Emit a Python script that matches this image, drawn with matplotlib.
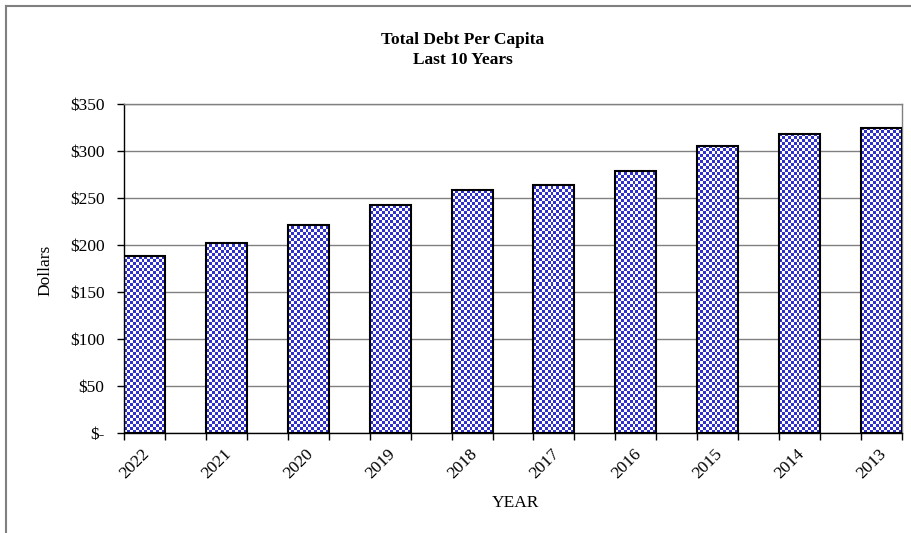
import numpy as np
import matplotlib
matplotlib.use("Agg")
import matplotlib.pyplot as plt
from matplotlib.lines import Line2D
from matplotlib.colors import ListedColormap
from matplotlib.transforms import ScaledTranslation

years = ["2022", "2021", "2020", "2019", "2018", "2017", "2016", "2015", "2014", "2013"]
values = [188, 202, 221, 243, 259, 264, 279, 305, 318, 325]
ytick_vals = [0, 50, 100, 150, 200, 250, 300, 350]
ytick_labels = ["$-", "$50", "$100", "$150", "$200", "$250", "$300", "$350"]

plt.rcParams['font.family'] = ['Liberation Serif', 'DejaVu Serif']
FS = 12.5

W, H = 912, 533
fig = plt.figure(figsize=(W / 100, H / 100), dpi=100)
fig.patch.set_facecolor("white")

L, R, T, B = 124, 902, 104, 433
ax = fig.add_axes([L / W, 1 - B / H, (R - L) / W, (B - T) / H])

x = np.arange(len(years))
bw = 0.5
bars = ax.bar(x, values, width=bw, color="none", edgecolor="black", linewidth=1.5, zorder=3)

# checkerboard fill
cmap = ListedColormap(["white", "#3030cc"])
px_per_unit_x = (R - L) / (len(years) - 0.5)
px_per_unit_y = (B - T) / 350.0
cell = 3.0
for rect, v in zip(bars, values):
    x0 = rect.get_x()
    w = rect.get_width()
    nx = max(1, int(round(w * px_per_unit_x / cell)))
    ny = max(1, int(round(v * px_per_unit_y / cell)))
    ii, jj = np.indices((ny, nx))
    board = (ii + jj) % 2
    im = ax.imshow(board, cmap=cmap, extent=(x0, x0 + w, 0, ny * cell / px_per_unit_y),
                   origin="lower", interpolation="nearest", aspect="auto", zorder=2,
                   vmin=0, vmax=1)
    im.set_clip_path(rect)

ax.set_xlim(-0.25, len(years) - 0.75)
ax.set_ylim(0, 350)
ax.set_yticks(ytick_vals)
ax.set_yticklabels(ytick_labels, fontsize=FS)
ax.yaxis.grid(True, color="#808080", linewidth=1.0, zorder=1)
ax.set_axisbelow(True)

edges = np.arange(-0.25, len(years) - 0.5, 0.5)
ax.set_xticks(edges)
ax.set_xticklabels([])
ax.set_xticks(x, minor=True)
ax.set_xticklabels(years, minor=True, rotation=45, ha="right", va="top",
                   rotation_mode="anchor", fontsize=FS)
ax.tick_params(axis="x", which="minor", length=0, pad=9)
ax.tick_params(axis="x", which="major", length=5, width=1, direction="out", color="black")
ax.tick_params(axis="y", length=5, width=1, direction="out", color="black", pad=9)
off = ScaledTranslation(-3 / 100, 0, fig.dpi_scale_trans)
for lab in ax.get_xticklabels(minor=True):
    lab.set_transform(lab.get_transform() + off)

ax.spines["left"].set_color("black")
ax.spines["bottom"].set_color("black")
ax.spines["top"].set_color("#808080")
ax.spines["right"].set_color("#808080")
for s in ax.spines.values():
    s.set_linewidth(1.0)

fig.text(45 / W, 1 - 270 / H, "Dollars", ha="center", va="center", rotation=90, fontsize=FS)
fig.text(515 / W, 1 - 503 / H, "YEAR", ha="center", va="center", fontsize=FS)
fig.text(463 / W, 1 - 50 / H, "Total Debt Per Capita\nLast 10 Years", ha="center", va="center",
         fontsize=FS, fontweight="bold", linespacing=1.35)

# outer frame (left and top visible)
fig.add_artist(Line2D([6.5 / W, 6.5 / W], [0, 1 - 6 / H], color="#808080", linewidth=1.5,
                      transform=fig.transFigure))
fig.add_artist(Line2D([6 / W, 1], [1 - 6 / H, 1 - 6 / H], color="#808080", linewidth=1.5,
                      transform=fig.transFigure))

fig.savefig("out.png", dpi=100)
